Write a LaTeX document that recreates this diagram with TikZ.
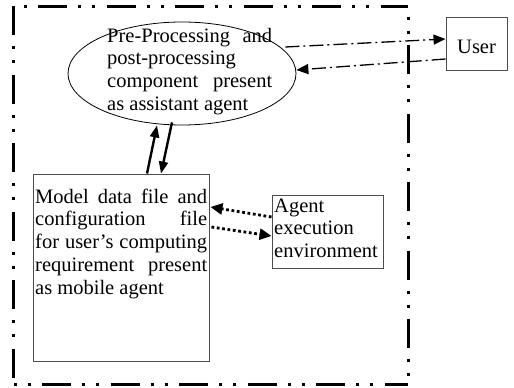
\documentclass[tikz,border=0pt]{standalone}
\usepackage{fontspec}
\setmainfont{Liberation Serif}
\usetikzlibrary{arrows.meta,shapes.geometric}
\begin{document}
\begin{tikzpicture}[x=1pt,y=-1pt,
  every node/.style={font=\fontsize{20.5}{22.8}\selectfont},
  border/.style={line width=3pt, dash pattern=on 29pt off 11pt on 3pt off 11pt on 3pt off 11.5pt},
  boxline/.style={draw=black!70, line width=0.9pt, inner sep=0pt},
  txt/.style={anchor=base west, inner sep=0pt},
  dashdot/.style={line width=1.3pt, dash pattern=on 14pt off 4pt on 2pt off 4pt, -{Triangle[length=12pt,width=10pt]}},
  dotarrow/.style={line width=2.8pt, dash pattern=on 2.8pt off 2.6pt, -{Triangle[length=12pt,width=11pt]}},
  solidarrow/.style={line width=2.4pt, -{Triangle[length=12pt,width=9pt]}}]
\useasboundingbox (0,0) rectangle (514,388);
% outer border
\coordinate (tl) at (13,6);
\coordinate (tr) at (408,6);
\coordinate (bl) at (13,384);
\coordinate (br) at (408,384);
\draw[border, dash phase=43.5pt] (tl) -- (tr);
\draw[border] (tl) -- (bl);
\draw[border, dash phase=29.5pt] (tr) -- (br);
\draw[border, dash phase=39.5pt] (bl) -- (br);
% ellipse
\node[draw, ellipse, line width=0.8pt, minimum width=228pt, minimum height=103pt, inner sep=0pt] (pre) at (182,73.5) {};
\node[txt] (pretext) at (107,42) {\parbox[t]{165pt}{%
\makebox[\linewidth][s]{Pre-Processing and}\\
post-processing\\
\makebox[\linewidth][s]{component present}\\
as assistant agent}};
% user box
\node[boxline, minimum width=61pt, minimum height=53pt] (user) at (476.5,43.5) {};
\node[txt] (usertext) at (457,53) {User};
% model box
\node[boxline, minimum width=176pt, minimum height=187pt] (model) at (121,267.5) {};
\node[txt] (modeltext) at (35,203) {\parbox[t]{172pt}{%
\makebox[\linewidth][s]{Model data file and}\\
\makebox[\linewidth][s]{configuration file}\\
\makebox[\linewidth][s]{for user’s computing}\\
\makebox[\linewidth][s]{requirement present}\\
as mobile agent}};
% agent box
\node[boxline, minimum width=111pt, minimum height=73pt] (agent) at (327.5,231.5) {};
\node[txt] (agenttext) at (274,212) {\parbox[t]{108pt}{Agent\\execution\\environment}};
% connectors
\draw[dashdot] ([xshift=-11pt,yshift=26.5pt]pre.east) -- ([yshift=4.5pt]user.west);
\draw[dashdot] ([yshift=-15.5pt]user.west) -- ([yshift=3.5pt]pre.east);
\draw[solidarrow] ([xshift=26pt]model.north) -- ([xshift=-25pt]pre.south);
\draw[solidarrow] ([xshift=-10pt,yshift=3pt]pre.south) -- ([xshift=40pt]model.north);
\draw[dotarrow] ([yshift=14.5pt]agent.west) -- ([xshift=1pt,yshift=60.5pt]model.east);
\draw[dotarrow] ([xshift=2pt,yshift=40.5pt]model.east) -- ([yshift=-4.5pt]agent.west);
\end{tikzpicture}
\end{document}
